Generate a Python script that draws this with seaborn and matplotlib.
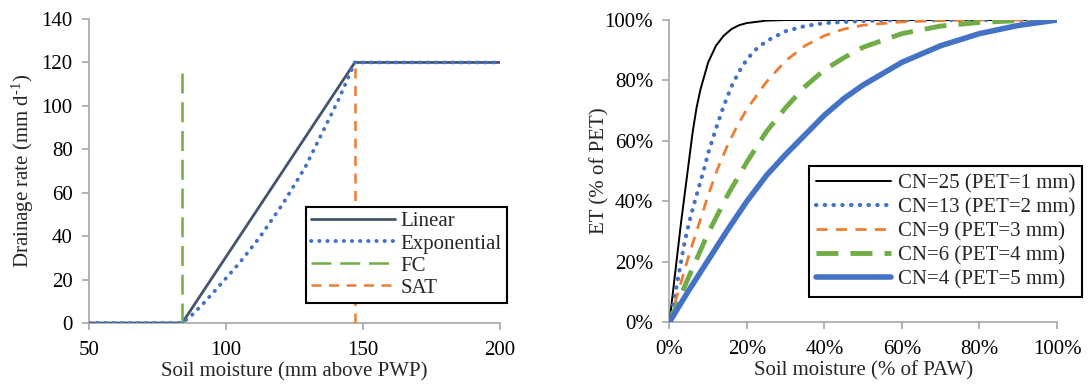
import matplotlib
matplotlib.use("Agg")
import matplotlib.pyplot as plt
import seaborn as sns
from matplotlib.ticker import FuncFormatter

# ---------------- data: left panel ----------------
lin_x = [50, 84, 147, 200]
lin_y = [0, 0, 120, 120]
exp_x = [50, 84, 87, 91, 97, 105, 112.5, 121, 129, 135.5, 141, 144.5, 147, 200]
exp_y = [0, 0, 3, 8, 16.3, 27.8, 39.8, 55.4, 72, 88.6, 102.7, 112.7, 120, 120]
fc_x = [84, 84]
fc_y = [0, 117]
sat_x = [147, 147]
sat_y = [0, 118]

# ---------------- data: right panel (% of PAW -> % of PET) ----------------
cn25_x = [0, 1, 2, 3, 4, 5, 6, 7, 8, 10, 12, 14, 16, 18, 20, 25, 30, 100]
cn25_y = [0, 11, 22, 33, 43, 53, 63, 71, 77, 86, 91.5, 94.8, 97, 98.3, 99, 99.8, 100, 100]
cn13_x = [0, 1, 2, 3, 4, 5, 6, 7, 8, 9, 10, 12, 14, 16, 18, 20, 22.5, 25, 30, 35, 40, 50, 60, 100]
cn13_y = [0, 6, 13, 20, 27, 32.5, 37.5, 42, 46.5, 51, 56, 64, 71.5, 78, 83, 87, 90.5, 93, 96.3, 98, 99, 99.7, 100, 100]
cn9_x = [0, 2.5, 5, 7.5, 10, 12.5, 15, 17.5, 20, 25, 30, 35, 40, 45, 50, 60, 70, 80, 100]
cn9_y = [0, 11, 22, 32, 42, 51, 58.5, 65, 70.5, 79.5, 86.5, 91.5, 94.8, 97, 98.3, 99.4, 99.8, 100, 100]
cn6_x = [0, 5, 10, 15, 20, 25, 30, 35, 40, 45, 50, 60, 70, 80, 90, 100]
cn6_y = [0, 15, 29.5, 42, 53, 63, 71, 78, 83.5, 87.5, 91, 95.5, 98, 99.2, 99.8, 100]
cn4_x = [0, 5, 10, 15, 20, 25, 30, 35, 40, 45, 50, 60, 70, 80, 90, 100]
cn4_y = [0, 10.5, 20.5, 30.5, 40, 48.5, 55.5, 62, 68.5, 74, 78.5, 86, 91.5, 95.5, 98.2, 100]

left_labels = ["Linear", "Exponential", "FC", "SAT"]
right_labels = ["CN=25 (PET=1 mm)", "CN=13 (PET=2 mm)", "CN=9 (PET=3 mm)",
                "CN=6 (PET=4 mm)", "CN=4 (PET=5 mm)"]

sns.set_style("ticks")
plt.rcParams["font.family"] = ["Liberation Serif", "DejaVu Serif"]
plt.rcParams["mathtext.fontset"] = "custom"
plt.rcParams["mathtext.rm"] = "Liberation Serif"
plt.rcParams["mathtext.it"] = "Liberation Serif"
plt.rcParams["mathtext.default"] = "regular"

FS = 15
GRAY = "#a6a6a6"
BLUE = "#4472c4"
ORANGE = "#ed7d31"
GREEN = "#70ad47"
SLATE = "#44546a"

fig = plt.figure(figsize=(10.88, 3.85), dpi=100)
axL = fig.add_axes([0.0818, 0.161, 0.3778, 0.7896])
axR = fig.add_axes([0.6153, 0.1636, 0.3562, 0.7844])

# ---- left ----
sns.lineplot(x=lin_x, y=lin_y, ax=axL, estimator=None, sort=False, color=SLATE, lw=2.0,
             label=left_labels[0])
sns.lineplot(x=exp_x, y=exp_y, ax=axL, estimator=None, sort=False, color=BLUE, lw=2.8,
             linestyle=(0, (0.1, 2.0)), dash_capstyle="round", label=left_labels[1])
sns.lineplot(x=fc_x, y=fc_y, ax=axL, estimator=None, sort=False, color=GREEN, lw=1.8,
             linestyle=(0, (8, 3.5)), label=left_labels[2])
sns.lineplot(x=sat_x, y=sat_y, ax=axL, estimator=None, sort=False, color=ORANGE, lw=1.8,
             linestyle=(0, (4, 3)), label=left_labels[3])
axL.set_xlim(50, 200)
axL.set_ylim(0, 140)
axL.set_xticks([50, 100, 150, 200])
axL.set_yticks(range(0, 141, 20))
axL.set_xlabel("Soil moisture (mm above PWP)", fontsize=FS)
axL.set_ylabel("Drainage rate (mm d$^{\u20101}$)", fontsize=FS)
axL.xaxis.set_label_coords(0.5, -0.128)
axL.yaxis.set_label_coords(-0.128, 0.5)
legL = axL.legend(loc="lower left", bbox_to_anchor=(0.528, 0.066), fontsize=FS,
                  frameon=True, fancybox=False, edgecolor="black", framealpha=1,
                  handlelength=4.0, labelspacing=0.12, borderpad=0.25, handletextpad=0.3,
                  borderaxespad=0)
legL.get_frame().set_linewidth(1.5)

# ---- right ----
sns.lineplot(x=cn25_x, y=cn25_y, ax=axR, estimator=None, sort=False, color="black", lw=1.4,
             label=right_labels[0])
sns.lineplot(x=cn13_x, y=cn13_y, ax=axR, estimator=None, sort=False, color=BLUE, lw=3.0,
             linestyle=(0, (0.1, 2.0)), dash_capstyle="round", label=right_labels[1])
sns.lineplot(x=cn9_x, y=cn9_y, ax=axR, estimator=None, sort=False, color=ORANGE, lw=2.0,
             linestyle=(0, (4, 3)), label=right_labels[2])
sns.lineplot(x=cn6_x, y=cn6_y, ax=axR, estimator=None, sort=False, color=GREEN, lw=3.5,
             linestyle=(0, (4.5, 2.5)), label=right_labels[3])
sns.lineplot(x=cn4_x, y=cn4_y, ax=axR, estimator=None, sort=False, color=BLUE, lw=4.0,
             label=right_labels[4])
axR.set_xlim(0, 100)
axR.set_ylim(0, 100)
axR.set_xticks(range(0, 101, 20))
axR.set_yticks(range(0, 101, 20))
pct = FuncFormatter(lambda v, p: f"{v:.0f}%")
axR.xaxis.set_major_formatter(pct)
axR.yaxis.set_major_formatter(pct)
axR.set_xlabel("Soil moisture (% of PAW)", fontsize=FS)
axR.set_ylabel("ET (% of PET)", fontsize=FS)
axR.xaxis.set_label_coords(0.5, -0.128)
axR.yaxis.set_label_coords(-0.155, 0.5)
legR = axR.legend(loc="lower left", bbox_to_anchor=(0.36, 0.083), fontsize=FS,
                  frameon=True, fancybox=False, edgecolor="black", framealpha=1,
                  handlelength=3.6, labelspacing=0.22, borderpad=0.35, handletextpad=0.3,
                  borderaxespad=0)
legR.get_frame().set_linewidth(1.5)

for ax in (axL, axR):
    for s in ("top", "right"):
        ax.spines[s].set_visible(False)
    for s in ("left", "bottom"):
        ax.spines[s].set_color(GRAY)
        ax.spines[s].set_linewidth(1.2)
        ax.spines[s].set_zorder(0)
    ax.tick_params(axis="both", direction="out", length=4.8, width=1.2, color=GRAY,
                   labelsize=FS, labelcolor="black")
    ax.tick_params(axis="x", pad=8)
    ax.tick_params(axis="y", pad=7)

fig.savefig("out.png", dpi=100)
